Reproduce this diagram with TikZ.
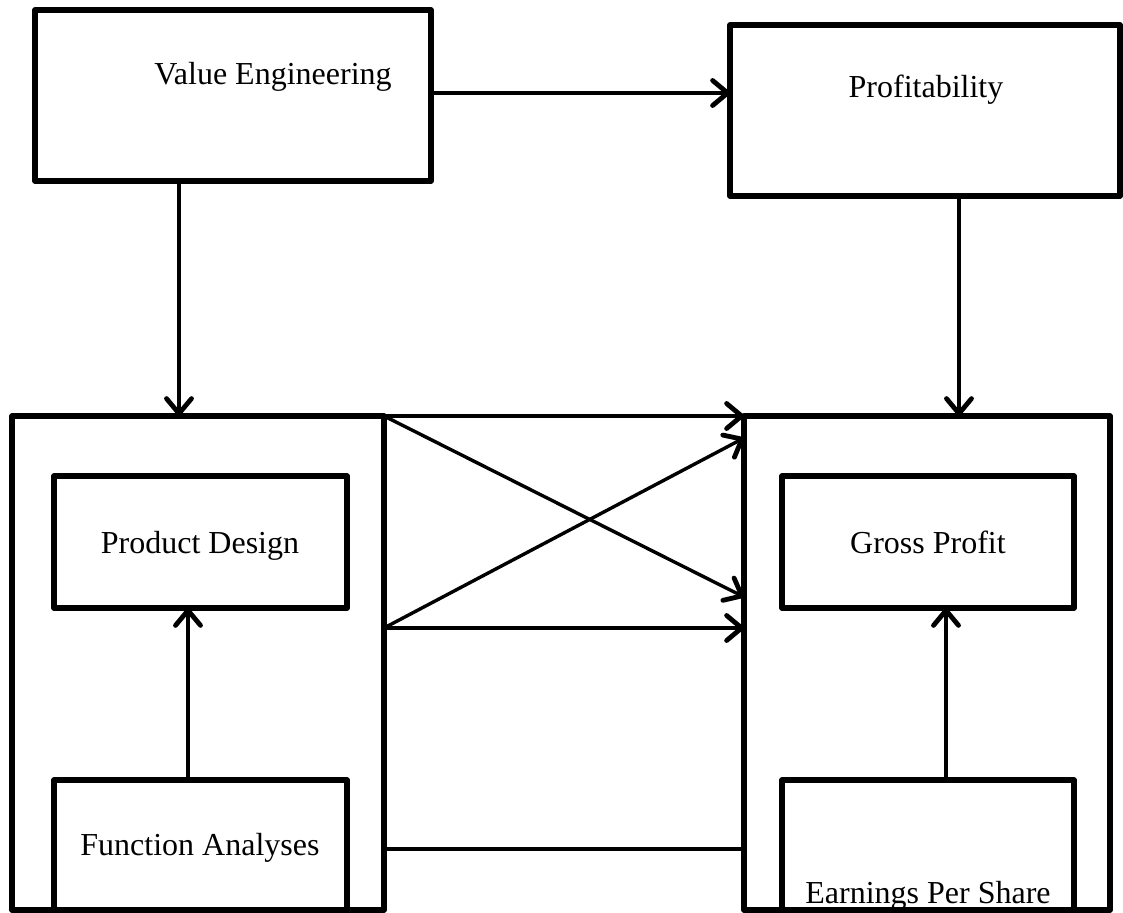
\documentclass[tikz,border=0pt]{standalone}
\usepackage{fontspec}
\setmainfont{Liberation Serif}
\usetikzlibrary{arrows.meta,fit}
\begin{document}
\begin{tikzpicture}[x=0.5pt,y=-0.5pt,
  box/.style={draw, line width=2.6pt, inner sep=0pt, outer sep=0pt, line join=round},
  lbl/.style={font=\fontsize{16}{19}\selectfont, inner sep=0pt, anchor=base},
  conn/.style={line width=1.7pt},
  arr/.style={conn, -{Straight Barb[length=7.5pt, width=12.5pt, line width=2.4pt, round]}}]
\useasboundingbox (0,0) rectangle (1123,913);
% boxes
\node[box, fit={(35,10) (431,181)}] (VE) {};
\node[box, fit={(730,25) (1120,196)}] (PR) {};
\node[box, fit={(12,416) (384,910)}] (LB) {};
\node[box, fit={(744,416) (1110,910)}] (RB) {};
\node[box, fit={(54,476) (347,608)}] (PD) {};
\node[box, fit={(54,780) (347,910)}] (FA) {};
\node[box, fit={(782,476) (1074,608)}] (GP) {};
\node[box, fit={(782,780) (1074,910)}] (EP) {};
% labels
\node[lbl] (VEt) at (273,85) {Value Engineering};
\node[lbl] (PRt) at (926,98) {Profitability};
\node[lbl] (PDt) at (200,553) {Product Design};
\node[lbl] (GPt) at (928,553) {Gross Profit};
\node[lbl] (FAt) at (200,855) {Function Analyses};
\node[lbl] (EPt) at (928,903) {Earnings Per Share};
% helper coordinates
\coordinate (c1) at (179,0);
\coordinate (c2) at (959,0);
\coordinate (c3) at (188,0);
\coordinate (c4) at (946,0);
\coordinate (r1) at (0,93);
\coordinate (r2) at (0,628);
\coordinate (r3) at (0,597);
\coordinate (r4) at (0,438);
\coordinate (r5) at (0,849);
% connectors
\draw[arr] (VE.east |- r1) -- (PR.west |- r1);
\draw[arr] (VE.south -| c1) -- (LB.north -| c1);
\draw[arr] (PR.south -| c2) -- (RB.north -| c2);
\draw[arr] (FA.north -| c3) -- (PD.south -| c3);
\draw[arr] (EP.north -| c4) -- (GP.south -| c4);
\draw[arr] (LB.north east) -- (RB.north west);
\draw[arr] (LB.north east) -- (RB.west |- r3);
\draw[arr] (LB.east |- r2) -- (RB.west |- r4);
\draw[arr] (LB.east |- r2) -- (RB.west |- r2);
\draw[conn] (LB.east |- r5) -- (RB.west |- r5);
\end{tikzpicture}
\end{document}
